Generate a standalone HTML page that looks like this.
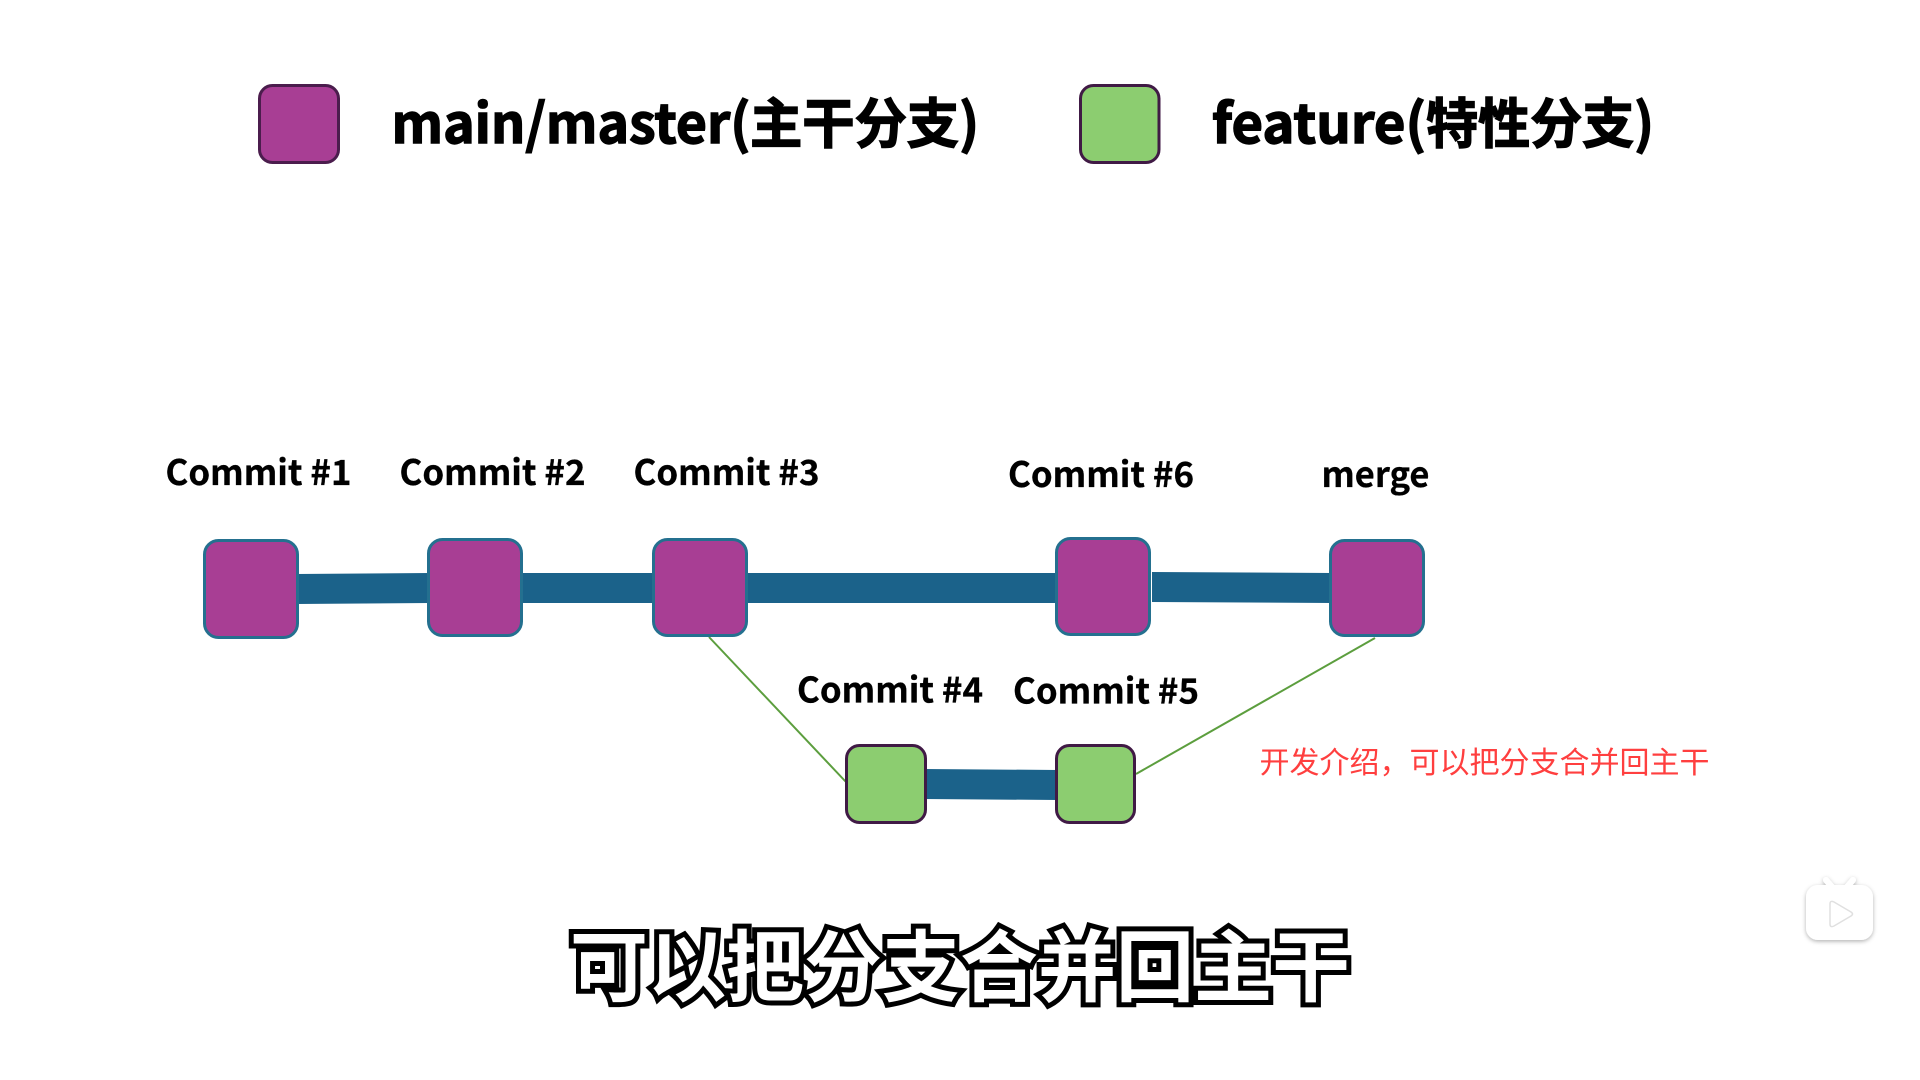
<!DOCTYPE html>
<html>
<head>
<meta charset="utf-8">
<style>
html,body{margin:0;padding:0;width:1920px;height:1080px;background:#fff;overflow:hidden}
svg{display:block}
text{font-family:"Liberation Sans","Noto Sans CJK SC",sans-serif}
.cjk{font-family:"Noto Sans CJK SC",sans-serif;font-weight:700;fill:#000}
.lg{font-size:54px;stroke:#000;stroke-width:1.4px}
.cm{font-size:35px;stroke:#000;stroke-width:.3px}
.sub{font-family:"Noto Sans CJK SC",sans-serif;font-weight:700;font-size:78px;fill:#fff;stroke:#000;stroke-width:10px;paint-order:stroke fill;stroke-linejoin:miter}
.red{font-family:"Noto Sans CJK SC",sans-serif;font-weight:400;font-size:30px;fill:#ff3f3f}
</style>
</head>
<body>
<svg width="1920" height="1080" viewBox="0 0 1920 1080" xmlns="http://www.w3.org/2000/svg">
<defs>
<filter id="sh" x="-30%" y="-30%" width="160%" height="160%"><feDropShadow dx="0" dy="1.5" stdDeviation="2" flood-color="#000" flood-opacity=".3"/></filter>
</defs>
<rect width="1920" height="1080" fill="#fff"/>

<!-- legend -->
<rect x="259.500" y="85.500" width="79" height="77" rx="13" fill="#a83e94" stroke="#4b1d4d" stroke-width="3"/>
<text class="cjk lg" x="391.500" y="143" textLength="359" lengthAdjust="spacingAndGlyphs">main/master(</text>
<text class="cjk lg" x="750" y="143" textLength="229" lengthAdjust="spacingAndGlyphs">主干分支)</text>
<rect x="1080.500" y="85.500" width="78.500" height="77" rx="13" fill="#8ccd70" stroke="#401a45" stroke-width="3"/>
<text class="cjk lg" x="1212" y="143" textLength="214" lengthAdjust="spacingAndGlyphs">feature(</text>
<text class="cjk lg" x="1426" y="143" textLength="228" lengthAdjust="spacingAndGlyphs">特性分支)</text>

<!-- thin lines -->
<line x1="709" y1="637" x2="846" y2="782" stroke="#5c9e3e" stroke-width="2"/>
<line x1="1375" y1="638" x2="1136" y2="774" stroke="#5c9e3e" stroke-width="2"/>

<!-- thick bars -->
<polygon points="296,574 430,573 430,603 296,604" fill="#1b628a"/>
<rect x="520" y="573" width="135" height="30" fill="#1b628a"/>
<rect x="745" y="573" width="315" height="30" fill="#1b628a"/>
<polygon points="1152,572 1332,573 1332,603 1152,602" fill="#1b628a"/>
<polygon points="924,769 1058,770 1058,800 924,799" fill="#1b628a"/>

<!-- main nodes -->
<g fill="#a83e94" stroke="#24708f" stroke-width="3">
<rect x="204.500" y="540.500" width="93" height="97" rx="14"/>
<rect x="428.500" y="539.500" width="93" height="96" rx="14"/>
<rect x="653.500" y="539.500" width="93" height="96" rx="14"/>
<rect x="1056.500" y="538.500" width="93" height="96" rx="14"/>
<rect x="1330.500" y="540.500" width="93" height="95" rx="14"/>
</g>
<!-- feature nodes -->
<g fill="#8ccd70" stroke="#401a45" stroke-width="3">
<rect x="846.500" y="745.500" width="79" height="77" rx="13"/>
<rect x="1056.500" y="745.500" width="78" height="77" rx="13"/>
</g>

<!-- labels -->
<text class="cjk cm" x="165.500" y="485" textLength="186" lengthAdjust="spacingAndGlyphs">Commit #1</text>
<text class="cjk cm" x="399.500" y="485" textLength="186" lengthAdjust="spacingAndGlyphs">Commit #2</text>
<text class="cjk cm" x="633.500" y="485" textLength="186" lengthAdjust="spacingAndGlyphs">Commit #3</text>
<text class="cjk cm" x="1008" y="487" textLength="186" lengthAdjust="spacingAndGlyphs">Commit #6</text>
<text class="cjk cm" x="1321.500" y="487" textLength="108" lengthAdjust="spacingAndGlyphs">merge</text>
<text class="cjk cm" x="797" y="702.500" textLength="186" lengthAdjust="spacingAndGlyphs">Commit #4</text>
<text class="cjk cm" x="1013" y="703.500" textLength="186" lengthAdjust="spacingAndGlyphs">Commit #5</text>

<text class="red" x="1259.500" y="773" textLength="450" lengthAdjust="spacingAndGlyphs">开发介绍，可以把分支合并回主干</text>

<!-- subtitle -->
<text class="sub" x="570" y="995" textLength="780" lengthAdjust="spacingAndGlyphs">可以把分支合并回主干</text>

<!-- watermark icon -->
<g filter="url(#sh)">
<path d="M1832 887 L1826 880 M1847 887 L1853 880" stroke="#fff" stroke-width="6" stroke-linecap="round" fill="none"/>
<rect x="1806" y="885" width="67" height="55" rx="12" fill="#fff"/>
<path d="M1830 904 q0 -4 4 -2 l17 10 q3 2 0 4 l-17 10 q-4 2 -4 -2 z" fill="#fff" stroke="#e0e0e0" stroke-width="1.500"/>
</g>
</svg>
</body>
</html>
